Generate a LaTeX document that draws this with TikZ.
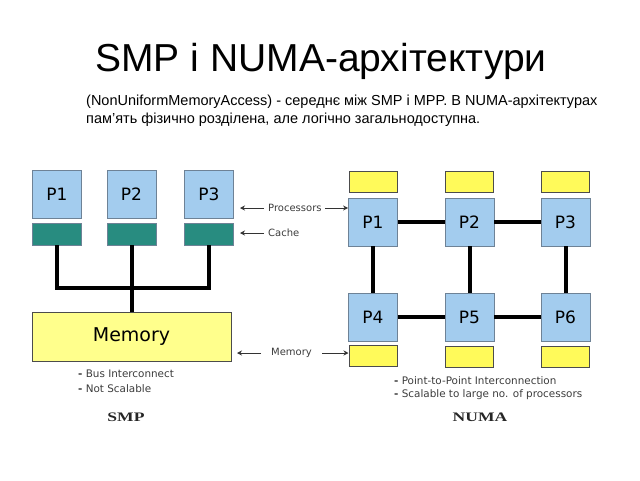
\documentclass[tikz,border=0pt]{standalone}
\usepackage{fontspec}
\setmainfont{Liberation Sans}
\newfontfamily\lblfont{DejaVu Sans}
\newfontfamily\serfont[FakeStretch=1.35]{Liberation Serif}
\usetikzlibrary{arrows.meta}
\definecolor{pblue}{RGB}{163,204,238}
\definecolor{pborder}{RGB}{110,130,150}
\definecolor{cteal}{RGB}{40,140,128}
\definecolor{myel}{RGB}{255,255,140}
\definecolor{yel}{RGB}{255,250,90}
\definecolor{lblgray}{RGB}{60,60,60}
\tikzset{
  proc/.style={draw=pborder, fill=pblue, line width=0.8pt, minimum width=49pt, minimum height=48pt, inner sep=0pt, font=\lblfont\fontsize{17}{17}\selectfont},
  cachebox/.style={draw=pborder, fill=cteal, line width=0.8pt, minimum width=49pt, minimum height=22pt, inner sep=0pt},
  membox/.style={draw=black!70, fill=yel, line width=1pt, minimum width=48pt, minimum height=21pt, inner sep=0pt},
  bigmem/.style={draw=black!70, fill=myel, line width=1pt, minimum width=199pt, minimum height=49pt, inner sep=0pt, font=\lblfont\fontsize{19}{19}\selectfont},
  wire/.style={line width=4pt, black},
  small/.style={font=\lblfont\fontsize{10}{12}\selectfont, text=lblgray, inner sep=0pt},
  bullet/.style={font=\lblfont\fontsize{10.4}{12}\selectfont, text=lblgray, inner sep=0pt},
  lblarrow/.style={-{Stealth[length=5pt,width=5pt]}, line width=1pt, black!80},
  caption/.style={font=\serfont\bfseries\fontsize{13}{13}\selectfont, text=black!85, inner sep=0pt}
}
\begin{document}
\begin{tikzpicture}[x=1pt,y=-1pt]
\useasboundingbox (0,0) rectangle (640,480);
% title
\node[font=\fontsize{39}{39}\selectfont, inner sep=0pt] (title) at (321,61) {SMP і NUMA-архітектури};
\node[font=\fontsize{14.5}{18}\selectfont, align=left, anchor=north west, inner sep=0pt] (sub) at (86,95)
 {(NonUniformMemoryAccess) - середнє між SMP і MPP. В NUMA-архітектурах\\пам'ять фізично розділена, але логічно загальнодоступна.};
% SMP
\node[proc] (sp1) at (57,194.5) {P1};
\node[proc] (sp2) at (131.5,194.5) {P2};
\node[proc] (sp3) at (209,194.5) {P3};
\node[cachebox] (sc1) at (57,234) {};
\node[cachebox] (sc2) at (131.5,234) {};
\node[cachebox] (sc3) at (209,234) {};
\node[bigmem] (smem) at (131.5,336.5) {Memory};
\coordinate (bl) at (57,288);
\coordinate (br) at (209,288);
\draw[wire] (sc1.south) -- (bl) -- (br) -- (sc3.south);
\draw[wire] (sc2.south) -- (smem.north);
\node[bullet, anchor=west, align=left] (sb1) at (78,374) {\textbf{-} Bus Interconnect};
\node[bullet, anchor=west, align=left] (sb2) at (78,389) {\textbf{-} Not Scalable};
\node[caption] (smp) at (126,417) {SMP};
% labels in the middle
\node[small, anchor=west] (lproc) at (268,208) {Processors};
\node[small, anchor=west] (lcache) at (268,233) {Cache};
\node[small, anchor=west] (lmem) at (271,353) {Memory};
\coordinate (a1) at (240,208);
\coordinate (a2) at (240,233);
\coordinate (a3) at (237,353);
\draw[lblarrow] ([xshift=-4pt]lproc.west) -- (a1);
\draw[lblarrow] ([xshift=-4pt]lcache.west) -- (a2);
\draw[lblarrow] ([xshift=-10pt]lmem.west) -- (a3);
% NUMA
\node[proc] (n1) at (373,222) {P1};
\node[proc] (n2) at (469.5,222) {P2};
\node[proc] (n3) at (565.5,222) {P3};
\node[proc] (n4) at (373,317) {P4};
\node[proc] (n5) at (469.5,317) {P5};
\node[proc] (n6) at (565.5,317) {P6};
\node[membox] (m1) at (373,182) {};
\node[membox] (m2) at (469.5,182) {};
\node[membox] (m3) at (565.5,182) {};
\node[membox] (m4) at (373,356) {};
\node[membox] (m5) at (469.5,357) {};
\node[membox] (m6) at (565.5,357) {};
\draw[wire] (n1) -- (n2);
\draw[wire] (n2) -- (n3);
\draw[wire] (n4) -- (n5);
\draw[wire] (n5) -- (n6);
\draw[wire] (n1) -- (n4);
\draw[wire] (n2) -- (n5);
\draw[wire] (n3) -- (n6);
\draw[lblarrow] ([xshift=3pt]lproc.east) -- (n1.west |- lproc.east);
\draw[lblarrow] ([xshift=10pt]lmem.east) -- (m4.west |- lmem.east);
\node[bullet, anchor=west, align=left] (nb1) at (394,381) {\textbf{-} Point-to-Point Interconnection};
\node[bullet, anchor=west, align=left] (nb2) at (394,395) {\textbf{-} Scalable to large no. of processors};
\node[caption] (numa) at (480,417) {NUMA};
\end{tikzpicture}
\end{document}
